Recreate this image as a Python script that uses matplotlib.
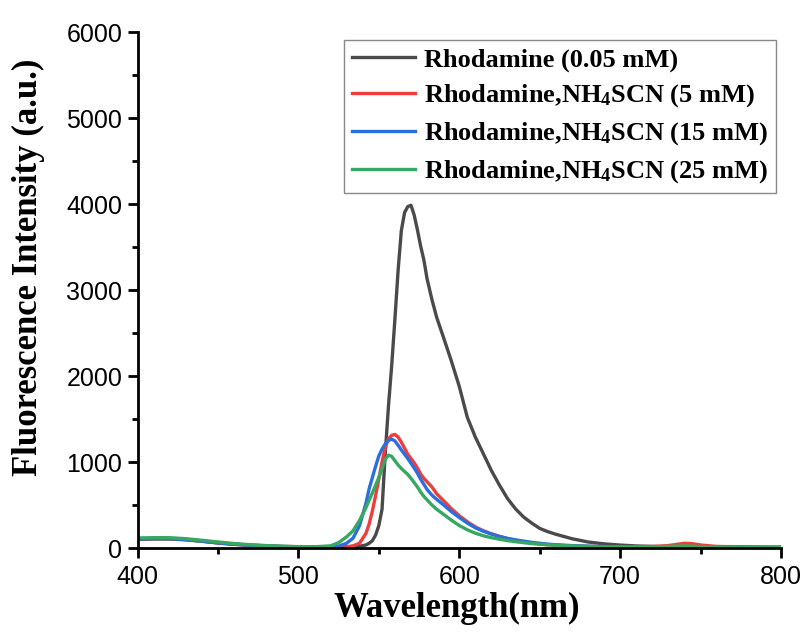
import matplotlib
matplotlib.use("Agg")
import matplotlib.pyplot as plt
from matplotlib.ticker import MultipleLocator

plt.rcParams['mathtext.fontset'] = 'custom'
plt.rcParams['mathtext.rm'] = 'Liberation Serif:bold'
plt.rcParams['mathtext.it'] = 'Liberation Serif:bold'
plt.rcParams['mathtext.bf'] = 'Liberation Serif:bold'

wavelength = [400, 410, 420, 430, 440, 450, 460, 470, 480, 490, 500, 510, 520,
              525, 530, 534, 538, 542,
              544, 546, 548, 550, 552, 554, 556, 558, 560, 562, 564, 566, 568, 570,
              572, 574, 576, 578, 580,
              583, 586, 590, 595, 600, 605, 610, 615, 620, 625, 630, 635, 640, 645,
              650, 655, 660,
              670, 680, 690, 700, 710, 720, 730,
              735, 740, 745, 750, 760, 780, 800]

rhodamine = [100, 105, 105, 95, 78, 58, 42, 30, 22, 16, 12, 10, 10,
             10, 12, 15, 20, 35,
             55, 85, 150, 260, 450, 1100, 1650, 2120, 2660, 3230, 3690, 3900, 3970, 3985,
             3870, 3700, 3510, 3350, 3130,
             2890, 2680, 2460, 2180, 1880, 1520, 1290, 1095, 900, 730, 575, 455, 360, 290,
             228, 190, 160,
             108, 70, 48, 34, 24, 18, 14,
             14, 16, 14, 10, 8, 6, 5]

scn_5mM = [108, 112, 110, 100, 82, 62, 46, 34, 25, 18, 15, 13, 12,
           12, 15, 25, 55, 170,
           280, 430, 610, 800, 1000, 1170, 1270, 1310, 1320, 1290, 1230, 1160, 1090, 1040,
           990, 930, 860, 810, 770,
           710, 630, 555, 460, 375, 305, 245, 200, 165, 135, 110, 90, 72, 58,
           47, 38, 32,
           24, 19, 16, 15, 15, 18, 28,
           42, 55, 50, 35, 18, 12, 10]

scn_15mM = [105, 110, 108, 98, 80, 60, 45, 33, 24, 18, 14, 12, 14,
            22, 55, 115, 260, 520,
            690, 820, 950, 1070, 1150, 1210, 1250, 1265, 1245, 1195, 1140, 1090, 1040, 985,
            930, 870, 800, 740, 680,
            615, 565, 505, 425, 355, 290, 235, 195, 162, 135, 112, 95, 80, 66,
            55, 45, 38,
            28, 21, 16, 13, 12, 12, 14,
            15, 16, 15, 13, 11, 10, 9]

scn_25mM = [116, 120, 120, 108, 90, 70, 52, 38, 28, 20, 16, 14, 25,
            62, 130, 200, 320, 470,
            555, 640, 730, 820, 920, 1030, 1080, 1065, 1015, 965, 925, 890, 855, 810,
            760, 710, 650, 600, 560,
            500, 450, 395, 325, 262, 212, 172, 142, 120, 102, 86, 73, 62, 52,
            44, 37, 32,
            24, 18, 15, 13, 12, 13, 18,
            22, 24, 22, 16, 11, 8, 7]

labels = ["Rhodamine (0.05 mM)",
          "Rhodamine,NH$_4$SCN (5 mM)",
          "Rhodamine,NH$_4$SCN (15 mM)",
          "Rhodamine,NH$_4$SCN (25 mM)"]
colors = ["#4a4a4a", "#f03c3c", "#2a6fdb", "#36a860"]
series = [rhodamine, scn_5mM, scn_15mM, scn_25mM]

fig = plt.figure(figsize=(8.11, 6.33), dpi=100)
ax = fig.add_axes([137.5 / 811, 85 / 633, 643.5 / 811, 516 / 633])

for vals, c, lab in zip(series, colors, labels):
    ax.plot(wavelength, vals, color=c, lw=2.4, label=lab, solid_joinstyle='round')

ax.set_xlim(400, 800)
ax.set_ylim(0, 6000)
ax.xaxis.set_major_locator(MultipleLocator(100))
ax.xaxis.set_minor_locator(MultipleLocator(50))
ax.yaxis.set_major_locator(MultipleLocator(1000))
ax.yaxis.set_minor_locator(MultipleLocator(500))

for s in ['top', 'right']:
    ax.spines[s].set_visible(False)
for s in ['left', 'bottom']:
    ax.spines[s].set_linewidth(2.0)

ax.tick_params(which='major', direction='out', length=7, width=2.0, labelsize=18)
ax.tick_params(which='minor', direction='out', length=4, width=2.0)
ax.tick_params(axis='x', which='major', pad=5)
ax.tick_params(axis='y', which='major', pad=4)
for t in ax.get_xticklabels() + ax.get_yticklabels():
    t.set_fontfamily('Liberation Sans')

ax.set_xlabel("Wavelength(nm)", fontfamily='Liberation Serif', fontweight='bold',
              fontsize=25)
ax.xaxis.set_label_coords((457 - 137.5) / 643.5, (548 - 608) / 516)
ax.xaxis.label.set_va('center')
ax.set_ylabel("Fluorescence Intensity (a.u.)", fontfamily='Liberation Serif',
              fontweight='bold', fontsize=25)
ax.yaxis.set_label_coords((28 - 137.5) / 643.5, (548 - 267) / 516)
ax.yaxis.label.set_va('center')

leg = ax.legend(loc='upper right', bbox_to_anchor=(0.993, 0.985), frameon=True,
                fancybox=False, edgecolor='#888888', framealpha=1,
                prop={'family': 'Liberation Serif', 'weight': 'bold', 'size': 19},
                handlelength=2.4, handletextpad=0.35, labelspacing=0.42,
                borderpad=0.3, borderaxespad=0)
leg.get_frame().set_linewidth(1.0)

fig.savefig("out.png", dpi=100)
